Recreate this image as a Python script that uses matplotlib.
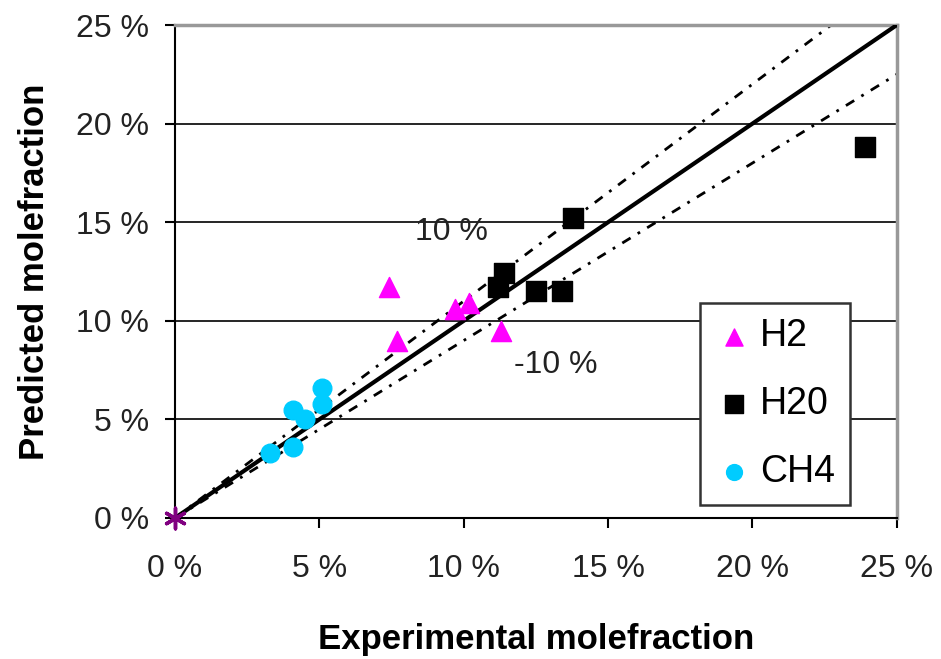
import numpy as np
import matplotlib
matplotlib.use('Agg')
import matplotlib.pyplot as plt

plt.rcParams['font.family'] = ['Liberation Sans', 'DejaVu Sans']

# values (percent)
h2_x = [7.4, 7.7, 9.7, 10.2, 11.3]
h2_y = [11.7, 9.0, 10.6, 10.9, 9.5]

h2o_x = [13.8, 11.4, 11.2, 12.5, 13.4, 23.9]
h2o_y = [15.2, 12.4, 11.7, 11.5, 11.5, 18.8]

ch4_x = [5.1, 5.1, 4.1, 4.5, 4.1, 3.3]
ch4_y = [6.6, 5.8, 5.5, 5.0, 3.6, 3.3]

ticks = [0, 5, 10, 15, 20, 25]
tick_labels = ['0 %', '5 %', '10 %', '15 %', '20 %', '25 %']

fig = plt.figure(figsize=(9.41, 6.59), dpi=100)
ax = fig.add_axes([0.186, 0.214, 0.767, 0.748])

ax.set_xlim(0, 25)
ax.set_ylim(0, 25)

# horizontal gridlines
for t in ticks[1:-1]:
    ax.axhline(t, color='black', lw=1.2, zorder=1)

# 1:1 line and +/-10 % lines
ref = np.array([0, 25])
dashdot = (0, (3.5, 3, 1, 3))
ax.plot(ref, ref, color='black', lw=3, zorder=3)
ax.plot(ref, ref * 1.1, color='black', lw=2, ls=dashdot, zorder=2)
ax.plot(ref, ref * 0.9, color='black', lw=2, ls=dashdot, zorder=2)

ax.scatter(h2_x, h2_y, marker='^', s=210, color='#ff00ff', zorder=4, label='H2')
ax.scatter(h2o_x, h2o_y, marker='s', s=210, color='black', zorder=4, label='H20')
ax.scatter(ch4_x, ch4_y, marker='o', s=180, color='#00ccff', zorder=4, label='CH4')
ax.scatter([0], [0], marker=(6, 2, 0), s=220, color='#800080', linewidths=2.5,
           zorder=5, clip_on=False)

ax.text(8.3, 14.1, '10 %', fontsize=23, color='#222222')
ax.text(11.75, 7.35, '-10 %', fontsize=23, color='#222222')

ax.set_xticks(ticks)
ax.set_xticklabels(tick_labels)
ax.set_yticks(ticks)
ax.set_yticklabels(tick_labels)
ax.tick_params(labelsize=23, direction='out', length=7, width=1.5, colors='black',
               labelcolor='#222222')
ax.tick_params(axis='x', pad=19)
ax.tick_params(axis='y', pad=12)

for s in ['top', 'right']:
    ax.spines[s].set_color('#999999')
    ax.spines[s].set_linewidth(2.5)
for s in ['left', 'bottom']:
    ax.spines[s].set_color('black')
    ax.spines[s].set_linewidth(1.5)

ax.set_xlabel('Experimental molefraction', fontsize=25, fontweight='bold', labelpad=28)
ax.set_ylabel('Predicted molefraction', fontsize=25, fontweight='bold', labelpad=18)

leg = ax.legend(loc='lower right', bbox_to_anchor=(0.935, 0.026), fontsize=27,
                frameon=True, fancybox=False, edgecolor='#333333', framealpha=1,
                handletextpad=0.2, labelspacing=0.85, borderpad=0.4, markerscale=0.85,
                handlelength=1.0, borderaxespad=0)
leg.get_frame().set_linewidth(1.8)

fig.savefig('out.png', dpi=100)
